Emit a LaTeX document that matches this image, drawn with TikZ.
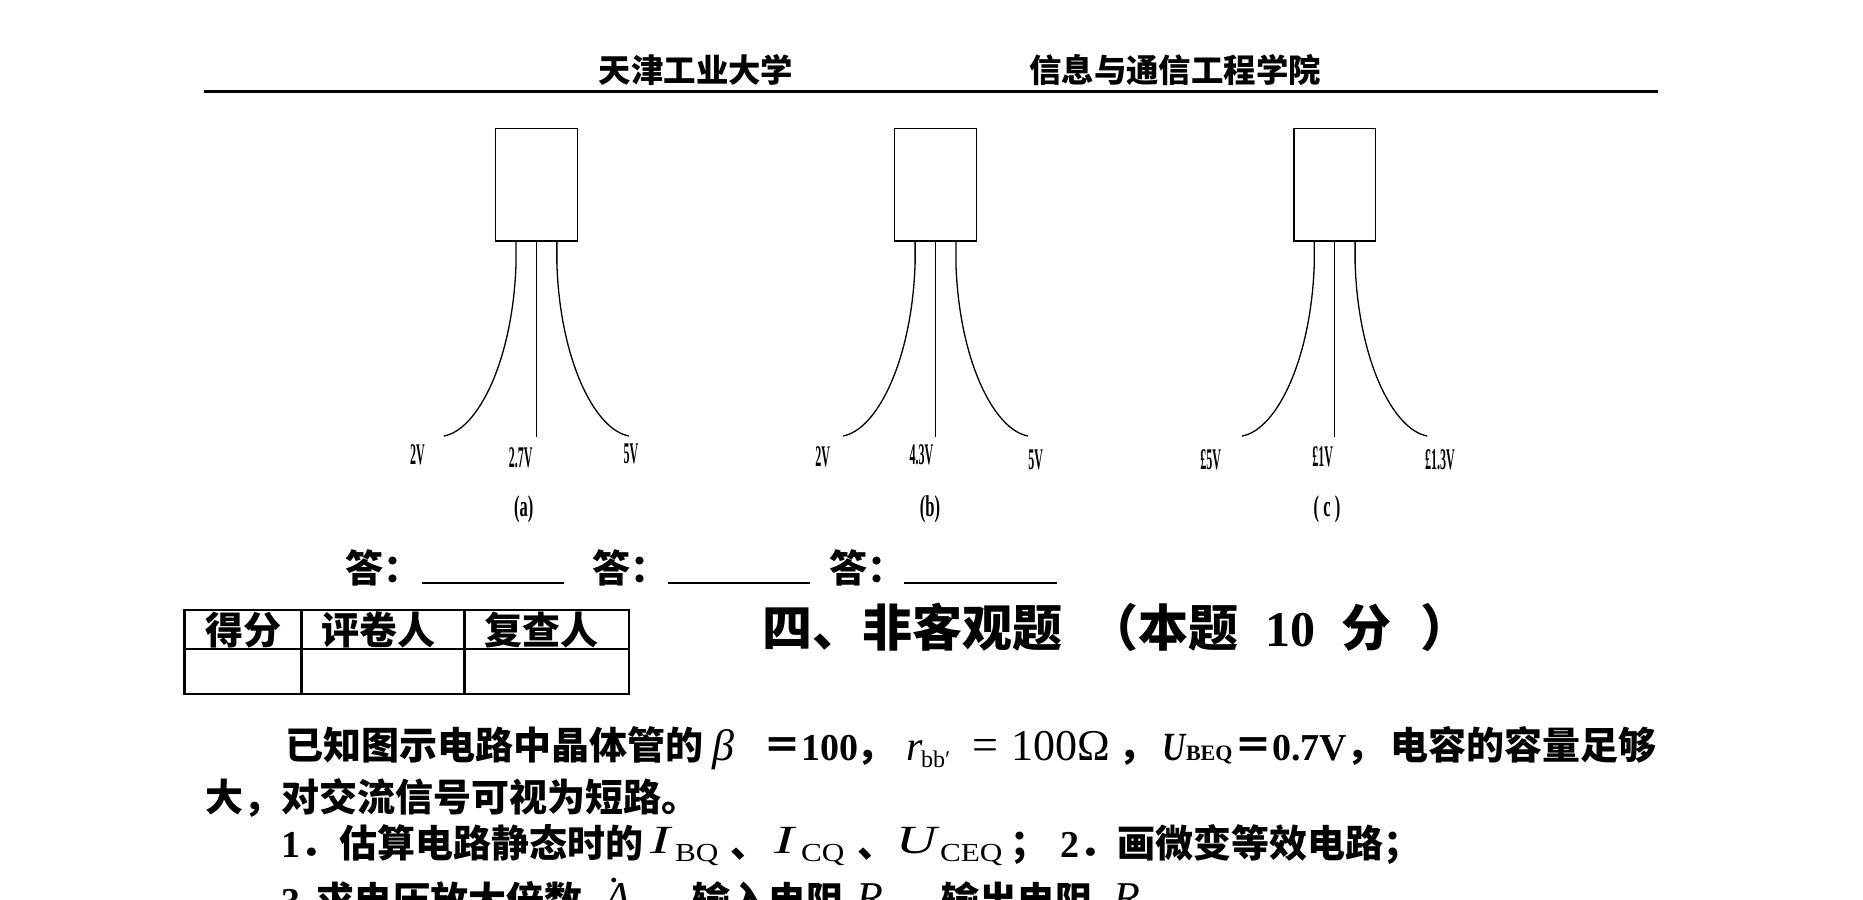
\documentclass[tikz,border=0pt]{standalone}
\usepackage{fontspec}
\usepackage{graphicx}
\usetikzlibrary{calc}
\setmainfont{Liberation Serif}
\newfontfamily\cjk{Noto Sans CJK SC}
\newcommand\fs[1]{\fontsize{#1bp}{#1bp}\selectfont}
\newcommand\nar[2][.4]{\scalebox{#1}[1]{#2}}
\newcommand\wid[2][1.3]{\scalebox{#1}[1]{#2}}
\newcommand\cb[2]{{\cjk\bfseries\fs{#1}#2}}
\newcommand\tube[2]{%
  \node[pkg] (#1) at (#2,184.65) {};
  \coordinate (#1-pl) at ($(#1.south)+(-20.4,0)$);
  \coordinate (#1-pr) at ($(#1.south)+(20.4,0)$);
  \coordinate (#1-el) at ($(#1-pl)+(-72.2,195)$);
  \coordinate (#1-er) at ($(#1-pr)+(72.2,195)$);
  \coordinate (#1-ec) at ($(#1.south)+(0,195.5)$);
  \draw[lead] (#1-pl) -- ++(0,22) .. controls ($(#1-pl)+(-3,119)$) and ($(#1-pl)+(-38,189)$) .. (#1-el);
  \draw[lead] (#1-pr) -- ++(0,22) .. controls ($(#1-pr)+(3,119)$) and ($(#1-pr)+(38,189)$) .. (#1-er);
  \draw[lead] (#1.south) -- (#1-ec);
  \draw[line width=1.8bp] (#1.south west) -- (#1.south east);
}
\tikzset{
  pkg/.style={draw,line width=1.4bp,minimum width=81.7bp,minimum height=112.7bp,inner sep=0pt,outer sep=0pt},
  lead/.style={line width=1.3bp},
  rulev/.style={line width=3bp},
  tline/.style={line width=2.6bp},
  txt/.style={inner sep=0pt,outer sep=0pt,anchor=base west},
  ctr/.style={inner sep=0pt,outer sep=0pt,anchor=base},
  lab/.style={inner sep=0pt,outer sep=0pt,anchor=center,font=\bfseries\fs{30}}
}
\begin{document}
\begin{tikzpicture}[x=1bp,y=-1bp]
\path[use as bounding box] (0,0) rectangle (1863,900);
\clip (0,0) rectangle (1863,900);
\fill[white] (0,0) rectangle (1863,900);
% header
\node[ctr] (h1) at (696,82) {\cb{32.4}{天津工业大学}};
\node[ctr] (h2) at (1175,82) {\cb{32.4}{信息与通信工程学院}};
\coordinate (r1) at (204,91);
\coordinate (r2) at (1658,91);
\draw[rulev] (r1) -- (r2);
% transistors
\tube{ta}{536.45}
\tube{tb}{935.5}
\tube{tc}{1334.7}
\node[lab] (la1) at (417.5,455) {\nar{2V}};
\node[lab] (la2) at (520.6,458) {\nar{2.7V}};
\node[lab] (la3) at (631,454) {\nar{5V}};
\node[lab] (lb1) at (822.6,457) {\nar{2V}};
\node[lab] (lb2) at (921.4,455) {\nar{4.3V}};
\node[lab] (lb3) at (1035.6,460) {\nar{5V}};
\node[lab] (lc1) at (1210.8,460) {\nar{£5V}};
\node[lab] (lc2) at (1322.8,457) {\nar{£1V}};
\node[lab] (lc3) at (1440,460) {\nar{£1.3V}};
\node[lab] (ca) at (523.8,509) {\nar[.55]{(a)}};
\node[lab] (cb) at (930,509) {\nar[.55]{(b)}};
\node[lab] (cc) at (1327,509) {\nar[.55]{( c )}};
% answers
\node[txt] (a1) at (345,582) {\cb{38}{答：}};
\node[txt] (a2) at (592,582) {\cb{38}{答：}};
\node[txt] (a3) at (829,582) {\cb{38}{答：}};
\draw[tline] (422,583) -- (564,583);
\draw[tline] (667.6,583) -- (809.6,583);
\draw[tline] (904.4,583) -- (1056.7,583);
% score table
\draw[tline] (184.5,610) rectangle (629,694);
\draw[tline] (184.5,649) -- (629,649);
\draw[tline] (301.7,610) -- (301.7,694);
\draw[tline] (464.3,610) -- (464.3,694);
\node[ctr] (t1) at (243,644) {\cb{38}{得分}};
\node[ctr] (t2) at (378.7,644) {\cb{38}{评卷人}};
\node[ctr] (t3) at (541,644) {\cb{38}{复查人}};
% heading
\node[txt] (s4) at (762,646) {\cb{50}{四、非客观题\hspace{27bp}（本题\hspace{26bp}}{\bfseries\fs{50}10}\hspace{26bp}\cb{50}{分\hspace{30bp}）}};
% line 1
\node[txt] (p1) at (285.5,759.5) {\cb{38}{已知图示电路中晶体管的}};
\node[txt] (p1b) at (712,760) {\itshape\fs{44}β};
\node[txt] (p1c) at (763,759.5) {\cb{38}{＝}};
\node[txt] (p1d) at (801,760) {\bfseries\fs{38}100};
\node[txt] (p1e) at (856,759.5) {\cb{38}{，}};
\node[txt] (p1f) at (906,760) {\itshape\fs{42}r};
\node[txt] (p1g) at (921,767) {\fs{24}bb′};
\node[txt] (p1h) at (972,760) {\fs{46}=};
\node[txt] (p1i) at (1011,760) {\fs{44}100Ω};
\node[txt] (p1j) at (1118,759.5) {\cb{38}{，}};
\node[txt] (p1k) at (1162,760) {\bfseries\itshape\wid[.8]{\fs{40}U}};
\node[txt] (p1l) at (1186,760) {\bfseries\fs{22}BEQ};
\node[txt] (p1m) at (1234,759.5) {\cb{38}{＝}};
\node[txt] (p1n) at (1272,760) {\bfseries\fs{38}0.7V};
\node[txt] (p1o) at (1346,759.5) {\cb{38}{，}};
\node[txt] (p1p) at (1390,759.5) {\cb{38}{电容的容量足够}};
% line 2
\node[txt] (p2) at (205,811) {\cb{38}{大，对交流信号可视为短路。}};
% line 3
\node[txt] (p3a) at (281,857) {\bfseries\fs{38}1};
\node[txt] (p3b) at (300,857) {\cb{38}{．}};
\node[txt] (p3c) at (339,857) {\cb{38}{估算电路静态时的}};
\node[txt] (p3d) at (650,853) {\itshape\wid[1.5]{\fs{40}I}};
\node[txt] (p3e) at (675,861) {\wid[1.2]{\fs{26}BQ}};
\node[txt] (p3f) at (730,857) {\cb{38}{、}};
\node[txt] (p3g) at (774,853) {\itshape\wid[1.5]{\fs{40}I}};
\node[txt] (p3h) at (801,861) {\wid[1.2]{\fs{26}CQ}};
\node[txt] (p3i) at (857,857) {\cb{38}{、}};
\node[txt] (p3j) at (896,853) {\itshape\wid[1.4]{\fs{40}U}};
\node[txt] (p3k) at (940,861) {\wid[1.2]{\fs{26}CEQ}};
\node[txt] (p3l) at (1010,857) {\cb{38}{；}};
\node[txt] (p3m) at (1060,857) {\bfseries\fs{38}2};
\node[txt] (p3n) at (1079,857) {\cb{38}{．}};
\node[txt] (p3o) at (1117,857) {\cb{38}{画微变等效电路；}};
% line 4 (cut by the page edge)
\node[txt] (p4a) at (281,914) {\bfseries\fs{38}3};
\node[txt] (p4b) at (316,914) {\cb{38}{求电压放大倍数}};
\node[txt] (p4c) at (604,912) {\itshape\fs{44}A};
\node[txt] (p4d) at (610,882) {\bfseries\fs{30}.};
\node[txt] (p4e) at (692,914) {\cb{38}{输入电阻}};
\node[txt] (p4f) at (856,912) {\itshape\fs{44}R};
\node[txt] (p4g) at (941,914) {\cb{38}{输出电阻}};
\node[txt] (p4h) at (1113,912) {\itshape\fs{44}R};
\end{tikzpicture}
\end{document}
